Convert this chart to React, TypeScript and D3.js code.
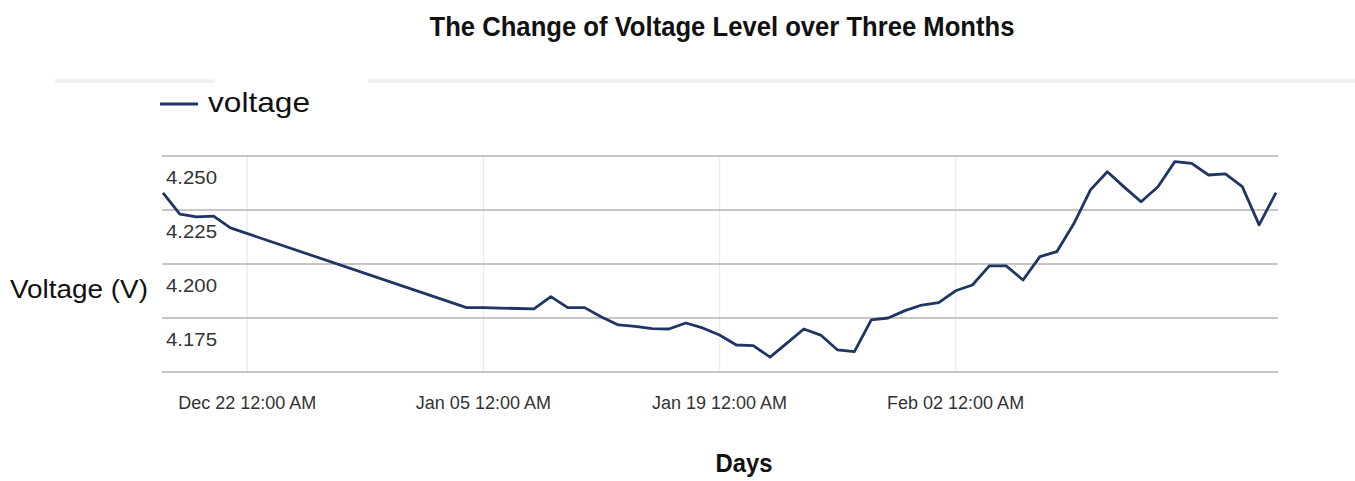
import React, { useMemo } from "react";
import * as d3 from "d3";

const WIDTH = 1355;
const HEIGHT = 481;
const PLOT = { left: 163, right: 1276, top: 156, bottom: 372, gridLeft: 162, gridRight: 1278 };

const LINE_COLOR = "#1f3563";
const GRID_COLOR = "#b3b3b3";
const FONT = "'Liberation Sans', Arial, sans-serif";

// daily readings (gap between Dec 21 and Jan 04 in the source)
const DAYS = [
  "2019-12-17", "2019-12-18", "2019-12-19", "2019-12-20", "2019-12-21",
  "2020-01-04", "2020-01-05", "2020-01-06", "2020-01-07", "2020-01-08",
  "2020-01-09", "2020-01-10", "2020-01-11", "2020-01-12", "2020-01-13",
  "2020-01-14", "2020-01-15", "2020-01-16", "2020-01-17", "2020-01-18",
  "2020-01-19", "2020-01-20", "2020-01-21", "2020-01-22", "2020-01-23",
  "2020-01-24", "2020-01-25", "2020-01-26", "2020-01-27", "2020-01-28",
  "2020-01-29", "2020-01-30", "2020-01-31", "2020-02-01", "2020-02-02",
  "2020-02-03", "2020-02-04", "2020-02-05", "2020-02-06", "2020-02-07",
  "2020-02-08", "2020-02-09", "2020-02-10", "2020-02-11", "2020-02-12",
  "2020-02-13", "2020-02-14", "2020-02-15", "2020-02-16", "2020-02-17",
  "2020-02-18", "2020-02-19", "2020-02-20", "2020-02-21",
];

const VOLTAGE = [
  4.2329, 4.2231, 4.2218, 4.2222, 4.2167,
  4.1798, 4.1798, 4.1796, 4.1794, 4.1792,
  4.1849, 4.1798, 4.1798, 4.1755, 4.1718,
  4.1711, 4.1701, 4.1699, 4.1727, 4.1704,
  4.1671, 4.1625, 4.1622, 4.1569, 4.1634,
  4.1699, 4.1671, 4.1602, 4.1594, 4.1741,
  4.175, 4.1784, 4.181, 4.1821, 4.1876,
  4.1903, 4.1991, 4.1991, 4.1926, 4.2034,
  4.2057, 4.2185, 4.2343, 4.2427, 4.2356,
  4.2288, 4.2358, 4.2474, 4.2466, 4.2412,
  4.2417, 4.2358, 4.2181, 4.233,
];

const X_TICKS = ["2019-12-22", "2020-01-05", "2020-01-19", "2020-02-02"];
const Y_GRID = [4.15, 4.175, 4.2, 4.225, 4.25];
const Y_LABELS = [4.175, 4.2, 4.225, 4.25];

const parseDay = d3.timeParse("%Y-%m-%d");
const fmtTick = d3.timeFormat("%b %d %I:%M %p");

export default function App() {
  const data = useMemo(
    () => DAYS.map((d, i) => ({ date: parseDay(d) as Date, value: VOLTAGE[i] })),
    []
  );

  const x = d3
    .scaleTime()
    .domain([data[0].date, data[data.length - 1].date])
    .range([PLOT.left, PLOT.right]);

  const y = d3.scaleLinear().domain([4.15, 4.25]).range([PLOT.bottom, PLOT.top]);

  const line = d3
    .line<{ date: Date; value: number }>()
    .x((d) => x(d.date))
    .y((d) => y(d.value));

  const ticks = X_TICKS.map((t) => parseDay(t) as Date);

  return (
    <svg
      width={WIDTH}
      height={HEIGHT}
      style={{ position: "absolute", left: 0, top: 0, background: "#fff" }}
      fontFamily={FONT}
    >
      <text
        x={722}
        y={36}
        textAnchor="middle"
        fontSize={27}
        fontWeight="bold"
        fill="#111"
        textLength={585}
        lengthAdjust="spacingAndGlyphs"
      >
        The Change of Voltage Level over Three Months
      </text>

      {/* faint band under the title */}
      <rect x={55} y={79} width={160} height={4} fill="#f1f1f1" />
      <rect x={368} y={79} width={987} height={4} fill="#f1f1f1" />

      {/* legend */}
      <line x1={160} x2={198} y1={104} y2={104} stroke={LINE_COLOR} strokeWidth={3} />
      <text x={208} y={112} fontSize={28} fill="#111" textLength={102} lengthAdjust="spacingAndGlyphs">
        voltage
      </text>

      {/* vertical grid */}
      {ticks.map((t, i) => (
        <line key={i} x1={x(t)} x2={x(t)} y1={PLOT.top} y2={PLOT.bottom} stroke="#ececec" strokeWidth={1.5} />
      ))}

      {/* horizontal grid */}
      {Y_GRID.map((v, i) => (
        <line
          key={i}
          x1={PLOT.gridLeft}
          x2={PLOT.gridRight}
          y1={y(v)}
          y2={y(v)}
          stroke={GRID_COLOR}
          strokeWidth={1.6}
        />
      ))}

      {Y_LABELS.map((v, i) => (
        <text key={i} x={166} y={y(v) + 28} fontSize={18} fill="#333" textLength={51} lengthAdjust="spacingAndGlyphs">
          {d3.format(".3f")(v)}
        </text>
      ))}

      {ticks.map((t, i) => (
        <text key={i} x={x(t)} y={409} textAnchor="middle" fontSize={18} fill="#333">
          {fmtTick(t)}
        </text>
      ))}

      <path d={line(data) ?? ""} fill="none" stroke={LINE_COLOR} strokeWidth={2.8} strokeLinejoin="round" />

      <text x={10} y={298} fontSize={25} fill="#111" textLength={138} lengthAdjust="spacingAndGlyphs">
        Voltage (V)
      </text>
      <text x={744} y={472} textAnchor="middle" fontSize={26} fontWeight="bold" fill="#111" textLength={57} lengthAdjust="spacingAndGlyphs">
        Days
      </text>
    </svg>
  );
}
